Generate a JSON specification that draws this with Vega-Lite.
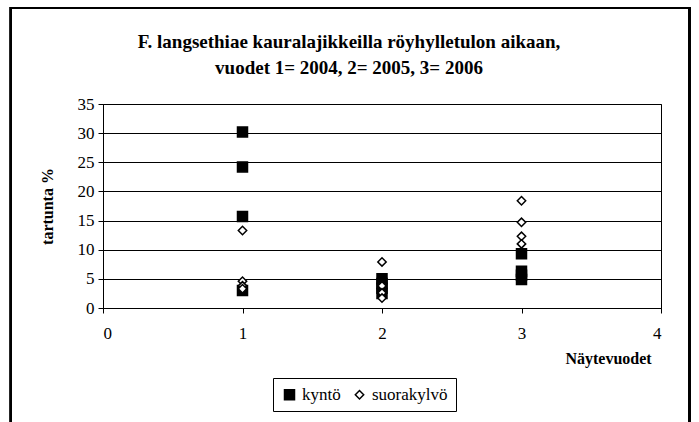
{
  "$schema": "https://vega.github.io/schema/vega-lite/v6.json",
  "autosize": "none",
  "width": 558,
  "height": 204,
  "padding": {"left": 103, "top": 104, "right": 38, "bottom": 114},
  "background": "white",
  "title": {
    "text": ["F. langsethiae  kauralajikkeilla röyhylletulon aikaan,", "vuodet 1= 2004, 2= 2005, 3= 2006"],
    "font": "Liberation Serif",
    "fontSize": 19,
    "fontWeight": "bold",
    "lineHeight": 26,
    "anchor": "middle",
    "frame": "group",
    "dx": -33,
    "offset": -71,
    "color": "black"
  },
  "config": {
    "view": {"stroke": "black", "strokeWidth": 1},
    "axis": {"labelFont": "Liberation Serif", "titleFont": "Liberation Serif", "labelColor": "black", "titleColor": "black", "domainColor": "black", "tickColor": "black"},
    "legend": {"labelFont": "Liberation Serif"}
  },
  "data": {
    "values": [
      {"vuosi": 1, "tartunta": 30.2, "menetelma": "kyntö"},
      {"vuosi": 1, "tartunta": 24.2, "menetelma": "kyntö"},
      {"vuosi": 1, "tartunta": 15.7, "menetelma": "kyntö"},
      {"vuosi": 1, "tartunta": 3.0, "menetelma": "kyntö"},
      {"vuosi": 2, "tartunta": 5.0, "menetelma": "kyntö"},
      {"vuosi": 2, "tartunta": 4.2, "menetelma": "kyntö"},
      {"vuosi": 2, "tartunta": 3.4, "menetelma": "kyntö"},
      {"vuosi": 2, "tartunta": 2.5, "menetelma": "kyntö"},
      {"vuosi": 3, "tartunta": 9.3, "menetelma": "kyntö"},
      {"vuosi": 3, "tartunta": 6.3, "menetelma": "kyntö"},
      {"vuosi": 3, "tartunta": 5.6, "menetelma": "kyntö"},
      {"vuosi": 3, "tartunta": 4.9, "menetelma": "kyntö"},
      {"vuosi": 1, "tartunta": 13.3, "menetelma": "suorakylvö"},
      {"vuosi": 1, "tartunta": 4.6, "menetelma": "suorakylvö"},
      {"vuosi": 1, "tartunta": 3.8, "menetelma": "suorakylvö"},
      {"vuosi": 1, "tartunta": 3.3, "menetelma": "suorakylvö"},
      {"vuosi": 2, "tartunta": 7.9, "menetelma": "suorakylvö"},
      {"vuosi": 2, "tartunta": 3.8, "menetelma": "suorakylvö"},
      {"vuosi": 2, "tartunta": 2.6, "menetelma": "suorakylvö"},
      {"vuosi": 2, "tartunta": 1.7, "menetelma": "suorakylvö"},
      {"vuosi": 3, "tartunta": 18.4, "menetelma": "suorakylvö"},
      {"vuosi": 3, "tartunta": 14.7, "menetelma": "suorakylvö"},
      {"vuosi": 3, "tartunta": 12.3, "menetelma": "suorakylvö"},
      {"vuosi": 3, "tartunta": 11.0, "menetelma": "suorakylvö"}
    ]
  },
  "layer": [
    {
      "mark": {"type": "point", "filled": true, "strokeWidth": 1.5, "opacity": 1},
      "encoding": {
        "x": {
          "field": "vuosi", "type": "quantitative",
          "scale": {"domain": [0, 4], "nice": false, "zero": false},
          "axis": {
            "values": [0, 1, 2, 3, 4], "format": "d", "grid": false, "title": "Näytevuodet",
            "labelFontSize": 17, "labelPadding": 12, "tickSize": 5, "labelOverlap": false,
            "titleFontSize": 16, "titleFontWeight": "bold",
            "titleAlign": "center", "titleX": 505, "titleY": 50, "titleBaseline": "middle"
          }
        },
        "y": {
          "field": "tartunta", "type": "quantitative",
          "scale": {"domain": [0, 35], "nice": false},
          "axis": {
            "values": [0, 5, 10, 15, 20, 25, 30, 35], "format": "d", "grid": true, "gridColor": "black", "gridOpacity": 1,
            "labelOverlap": false,
            "title": "tartunta %", "labelFontSize": 17, "labelPadding": 4, "tickSize": 5,
            "titleFontSize": 16, "titleFontWeight": "bold", "titlePadding": 22
          }
        },
        "shape": {
          "field": "menetelma", "type": "nominal",
          "scale": {"domain": ["kyntö", "suorakylvö"], "range": ["square", "diamond"]},
          "legend": {
            "title": null, "orient": "none", "direction": "horizontal", "legendX": 170, "legendY": 274,
            "strokeColor": "black", "padding": 8, "labelFontSize": 17, "labelColor": "black",
            "symbolStrokeWidth": 1.5, "columnPadding": 10, "labelOffset": 4
          }
        },
        "fill": {
          "field": "menetelma", "type": "nominal",
          "scale": {"domain": ["kyntö", "suorakylvö"], "range": ["black", "white"]},
          "legend": {
            "title": null, "orient": "none", "direction": "horizontal", "legendX": 170, "legendY": 274,
            "strokeColor": "black", "padding": 8, "labelFontSize": 17, "labelColor": "black",
            "symbolStrokeWidth": 1.5, "columnPadding": 10, "labelOffset": 4
          }
        },
        "stroke": {
          "field": "menetelma", "type": "nominal",
          "scale": {"domain": ["kyntö", "suorakylvö"], "range": ["black", "black"]},
          "legend": {
            "title": null, "orient": "none", "direction": "horizontal", "legendX": 170, "legendY": 274,
            "strokeColor": "black", "padding": 8, "labelFontSize": 17, "labelColor": "black",
            "symbolStrokeWidth": 1.5, "columnPadding": 10, "labelOffset": 4
          }
        },
        "size": {
          "field": "menetelma", "type": "nominal",
          "scale": {"domain": ["kyntö", "suorakylvö"], "range": [100, 70]},
          "legend": {
            "title": null, "orient": "none", "direction": "horizontal", "legendX": 170, "legendY": 274,
            "strokeColor": "black", "padding": 8, "labelFontSize": 17, "labelColor": "black",
            "symbolStrokeWidth": 1.5, "columnPadding": 10, "labelOffset": 4
          }
        }
      }
    },
    {
      "mark": {"type": "rect", "fill": null, "stroke": "black", "strokeWidth": 2, "clip": false},
      "encoding": {
        "x": {
          "datum": -0.66, "type": "quantitative",
          "axis": {
            "values": [0, 1, 2, 3, 4], "format": "d", "grid": false, "title": "Näytevuodet",
            "labelFontSize": 17, "labelPadding": 12, "tickSize": 5, "labelOverlap": false,
            "titleFontSize": 16, "titleFontWeight": "bold",
            "titleAlign": "center", "titleX": 505, "titleY": 50, "titleBaseline": "middle"
          }
        },
        "x2": {"datum": 4.205},
        "y": {
          "datum": 51.45, "type": "quantitative",
          "axis": {
            "values": [0, 5, 10, 15, 20, 25, 30, 35], "format": "d", "grid": true, "gridColor": "black", "gridOpacity": 1,
            "labelOverlap": false,
            "title": "tartunta %", "labelFontSize": 17, "labelPadding": 4, "tickSize": 5,
            "titleFontSize": 16, "titleFontWeight": "bold", "titlePadding": 22
          }
        },
        "y2": {"datum": -25}
      }
    }
  ]
}
